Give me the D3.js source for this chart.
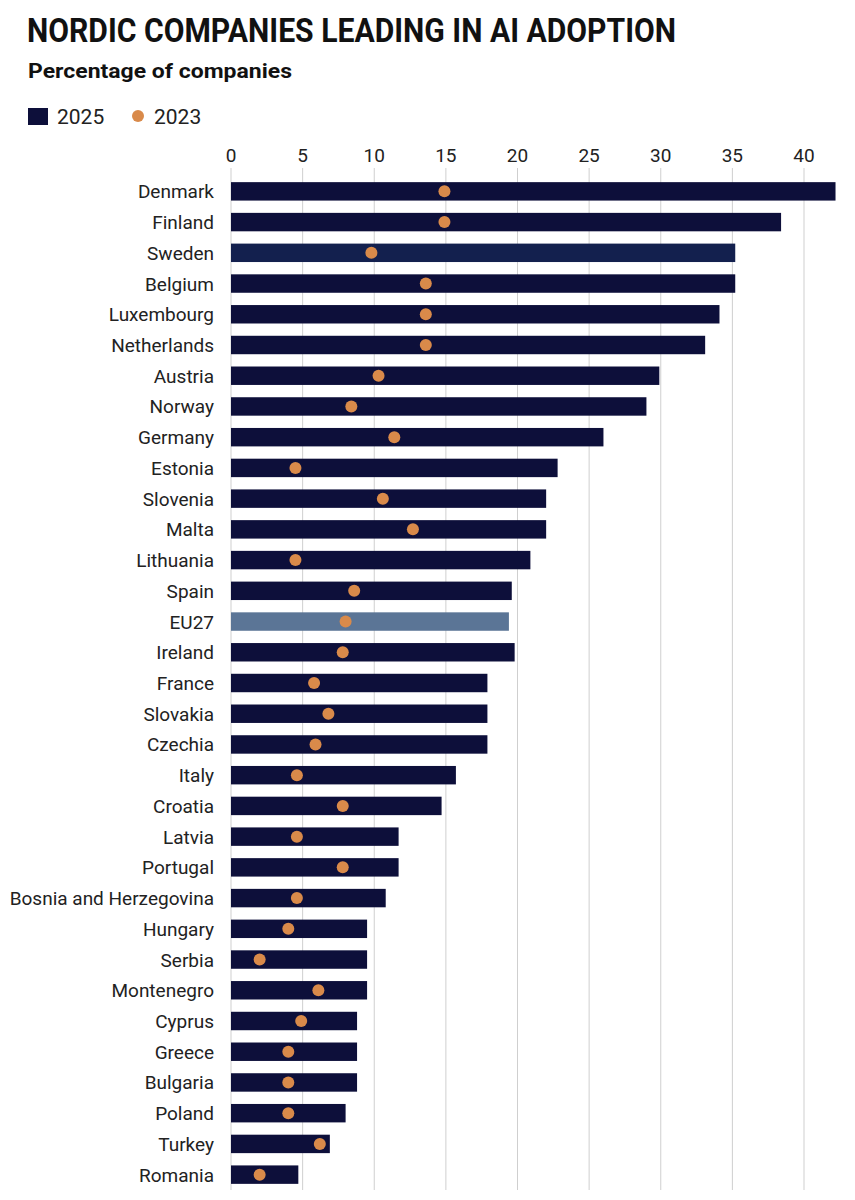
<!DOCTYPE html>
<html><head><meta charset="utf-8">
<script src="https://cdn.jsdelivr.net/npm/d3@7"></script>
<style>
body{margin:0;background:#fff;}
svg text{font-family:"Roboto","Liberation Sans",sans-serif;}
</style></head>
<body><svg id="chart"></svg>
<script>
const countries = ["Denmark","Finland","Sweden","Belgium","Luxembourg","Netherlands","Austria","Norway","Germany","Estonia","Slovenia","Malta","Lithuania","Spain","EU27","Ireland","France","Slovakia","Czechia","Italy","Croatia","Latvia","Portugal","Bosnia and Herzegovina","Hungary","Serbia","Montenegro","Cyprus","Greece","Bulgaria","Poland","Turkey","Romania"];
const values2025 = [42.2,38.4,35.2,35.2,34.1,33.1,29.9,29.0,26.0,22.8,22.0,22.0,20.9,19.6,19.4,19.8,17.9,17.9,17.9,15.7,14.7,11.7,11.7,10.8,9.5,9.5,9.5,8.8,8.8,8.8,8.0,6.9,4.7];
const values2023 = [14.9,14.9,9.8,13.6,13.6,13.6,10.3,8.4,11.4,4.5,10.6,12.7,4.5,8.6,8.0,7.8,5.8,6.8,5.9,4.6,7.8,4.6,7.8,4.6,4.0,2.0,6.1,4.9,4.0,4.0,4.0,6.2,2.0];
const ticks = [0,5,10,15,20,25,30,35,40];

const W = 855, H = 1200;
const svg = d3.select("#chart").attr("width", W).attr("height", H);

const x = d3.scaleLinear().domain([0, 40]).range([231, 804]);
const y = d3.scaleBand().domain(countries).range([176, 1190]).paddingInner(0.4).paddingOuter(0.2);

// Title
svg.append("text").attr("x", 27).attr("y", 42).attr("font-size", 33).attr("font-weight", "bold")
  .attr("fill", "#111").attr("textLength", 649).attr("lengthAdjust", "spacingAndGlyphs")
  .text("NORDIC COMPANIES LEADING IN AI ADOPTION");
svg.append("text").attr("x", 28).attr("y", 78).attr("font-size", 20).attr("font-weight", "bold")
  .attr("fill", "#111").attr("textLength", 264).attr("lengthAdjust", "spacingAndGlyphs")
  .text("Percentage of companies");

// Legend
svg.append("rect").attr("x", 28).attr("y", 108).attr("width", 20).attr("height", 17).attr("fill", "#0d0f3a");
svg.append("text").attr("x", 57).attr("y", 124).attr("font-size", 21).attr("fill", "#222").text("2025");
svg.append("circle").attr("cx", 138).attr("cy", 116).attr("r", 6).attr("fill", "#d98a4a");
svg.append("text").attr("x", 154).attr("y", 124).attr("font-size", 21).attr("fill", "#222").text("2023");

// Grid
svg.append("g").selectAll("line").data(ticks).join("line")
  .attr("x1", d => x(d)).attr("x2", d => x(d)).attr("y1", 168).attr("y2", 1190)
  .attr("stroke", "#cfcfcf").attr("stroke-width", 1);

// Top axis labels
svg.append("g").selectAll("text").data(ticks).join("text")
  .attr("x", d => x(d)).attr("y", 162).attr("text-anchor", "middle")
  .attr("font-size", 19).attr("fill", "#222").text(d => d);

// Bars
const barColor = c => c === "EU27" ? "#5b7596" : c === "Sweden" ? "#13204e" : "#0d0f3a";
svg.append("g").selectAll("rect").data(countries).join("rect")
  .attr("x", x(0)).attr("y", d => y(d))
  .attr("width", (d, i) => x(values2025[i]) - x(0)).attr("height", y.bandwidth())
  .attr("fill", barColor);

// Dots
svg.append("g").selectAll("circle").data(countries).join("circle")
  .attr("cx", (d, i) => x(values2023[i])).attr("cy", d => y(d) + y.bandwidth() / 2)
  .attr("r", 6).attr("fill", "#d98a4a");

// Category labels
svg.append("g").selectAll("text").data(countries).join("text")
  .attr("x", 214).attr("y", d => y(d) + y.bandwidth() / 2 + 7)
  .attr("text-anchor", "end").attr("font-size", 19).attr("fill", "#222").text(d => d);
</script></body></html>
